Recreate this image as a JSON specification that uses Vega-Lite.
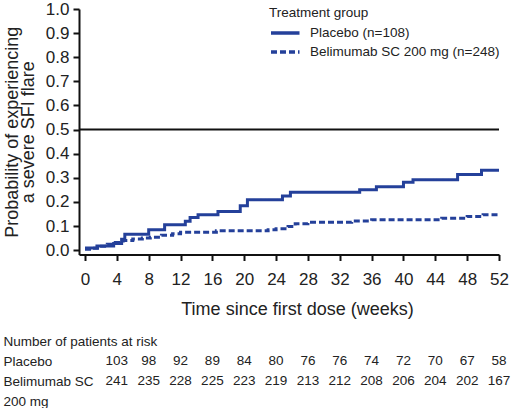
{
  "$schema": "https://vega.github.io/schema/vega-lite/v6.json",
  "padding": {"left": 3, "top": 0, "right": 0, "bottom": 0},
  "spacing": 15,
  "config": {
    "view": {"stroke": null},
    "font": "Liberation Sans",
    "axis": {"grid": false, "domainColor": "#111", "domainWidth": 2, "tickColor": "#111", "tickWidth": 2, "tickSize": 6, "labelColor": "#222", "titleColor": "#222", "labelFont": "Liberation Sans", "titleFont": "Liberation Sans", "titleFontWeight": "normal", "labelOverlap": false, "labelFlush": false},
    "legend": {"titleFontWeight": "normal", "titleFontSize": 13.5, "labelFontSize": 13.5, "titleColor": "#222", "labelColor": "#222", "labelFont": "Liberation Sans", "titleFont": "Liberation Sans", "labelLimit": 300}
  },
  "vconcat": [
    {
      "width": 420,
      "height": 245.5,
      "encoding": {
        "y": {"field": "p", "type": "quantitative",
          "scale": {"domain": [-0.018, 1.0], "nice": false, "zero": false},
          "axis": {"values": [0,0.1,0.2,0.3,0.4,0.5,0.6,0.7,0.8,0.9,1.0], "format": ".1f", "labelFontSize": 17, "labelPadding": 4, "labelOverlap": false, "labelFlush": false, "title": ["Probability of experiencing", "a severe SFI flare"], "titleFontSize": 18, "titleLineHeight": 16, "titlePadding": 8}}
      },
      "layer": [
        {
          "data": {"values": [
            {"group": "Placebo (n=108)", "week": 0, "p": 0.009},
            {"group": "Placebo (n=108)", "week": 1.5, "p": 0.017},
            {"group": "Placebo (n=108)", "week": 3.6, "p": 0.028},
            {"group": "Placebo (n=108)", "week": 4.6, "p": 0.045},
            {"group": "Placebo (n=108)", "week": 5.0, "p": 0.066},
            {"group": "Placebo (n=108)", "week": 8.0, "p": 0.085},
            {"group": "Placebo (n=108)", "week": 10.0, "p": 0.105},
            {"group": "Placebo (n=108)", "week": 12.6, "p": 0.12},
            {"group": "Placebo (n=108)", "week": 13.2, "p": 0.135},
            {"group": "Placebo (n=108)", "week": 14.2, "p": 0.147},
            {"group": "Placebo (n=108)", "week": 16.7, "p": 0.16},
            {"group": "Placebo (n=108)", "week": 19.5, "p": 0.184},
            {"group": "Placebo (n=108)", "week": 20.4, "p": 0.209},
            {"group": "Placebo (n=108)", "week": 24.8, "p": 0.225},
            {"group": "Placebo (n=108)", "week": 25.8, "p": 0.24},
            {"group": "Placebo (n=108)", "week": 34.5, "p": 0.25},
            {"group": "Placebo (n=108)", "week": 36.6, "p": 0.263},
            {"group": "Placebo (n=108)", "week": 40.0, "p": 0.282},
            {"group": "Placebo (n=108)", "week": 41.2, "p": 0.292},
            {"group": "Placebo (n=108)", "week": 46.8, "p": 0.314},
            {"group": "Placebo (n=108)", "week": 49.8, "p": 0.331},
            {"group": "Placebo (n=108)", "week": 52, "p": 0.331},
            {"group": "Belimumab SC 200 mg (n=248)", "week": 0, "p": 0.004},
            {"group": "Belimumab SC 200 mg (n=248)", "week": 0.8, "p": 0.008},
            {"group": "Belimumab SC 200 mg (n=248)", "week": 1.8, "p": 0.016},
            {"group": "Belimumab SC 200 mg (n=248)", "week": 2.8, "p": 0.024},
            {"group": "Belimumab SC 200 mg (n=248)", "week": 3.8, "p": 0.032},
            {"group": "Belimumab SC 200 mg (n=248)", "week": 4.8, "p": 0.04},
            {"group": "Belimumab SC 200 mg (n=248)", "week": 6.0, "p": 0.046},
            {"group": "Belimumab SC 200 mg (n=248)", "week": 7.2, "p": 0.05},
            {"group": "Belimumab SC 200 mg (n=248)", "week": 8.2, "p": 0.054},
            {"group": "Belimumab SC 200 mg (n=248)", "week": 9.6, "p": 0.062},
            {"group": "Belimumab SC 200 mg (n=248)", "week": 11.0, "p": 0.068},
            {"group": "Belimumab SC 200 mg (n=248)", "week": 12.0, "p": 0.074},
            {"group": "Belimumab SC 200 mg (n=248)", "week": 16.5, "p": 0.08},
            {"group": "Belimumab SC 200 mg (n=248)", "week": 23.0, "p": 0.085},
            {"group": "Belimumab SC 200 mg (n=248)", "week": 24.0, "p": 0.089},
            {"group": "Belimumab SC 200 mg (n=248)", "week": 25.5, "p": 0.098},
            {"group": "Belimumab SC 200 mg (n=248)", "week": 26.4, "p": 0.11},
            {"group": "Belimumab SC 200 mg (n=248)", "week": 28.0, "p": 0.116},
            {"group": "Belimumab SC 200 mg (n=248)", "week": 33.5, "p": 0.121},
            {"group": "Belimumab SC 200 mg (n=248)", "week": 36.0, "p": 0.126},
            {"group": "Belimumab SC 200 mg (n=248)", "week": 44.8, "p": 0.132},
            {"group": "Belimumab SC 200 mg (n=248)", "week": 48.0, "p": 0.14},
            {"group": "Belimumab SC 200 mg (n=248)", "week": 50.0, "p": 0.147},
            {"group": "Belimumab SC 200 mg (n=248)", "week": 52, "p": 0.147}
          ]},
          "mark": {"type": "line", "interpolate": "step-after", "strokeWidth": 3},
          "encoding": {
            "x": {"field": "week", "type": "quantitative",
              "scale": {"domain": [-0.754, 52], "nice": false, "zero": false},
              "axis": {"values": [0,4,8,12,16,20,24,28,32,36,40,44,48,52], "labelFontSize": 17, "labelPadding": 11, "labelOverlap": false, "labelFlush": false, "title": "Time since first dose (weeks)", "titleFontSize": 18, "titlePadding": 13, "titleX": 218}},
            "color": {"field": "group", "type": "nominal",
              "scale": {"domain": ["Placebo (n=108)", "Belimumab SC 200 mg (n=248)"], "range": ["#24409a", "#24409a"]},
              "legend": {"title": "Treatment group", "orient": "none", "legendX": 190, "legendY": -3, "symbolType": "M-1,0H2", "symbolSize": 361, "symbolStrokeWidth": 3.5, "labelOffset": 18, "rowPadding": 0, "titlePadding": 2}},
            "strokeDash": {"field": "group", "type": "nominal",
              "scale": {"domain": ["Placebo (n=108)", "Belimumab SC 200 mg (n=248)"], "range": [[1, 0], [6, 3]]},
              "legend": {"title": "Treatment group", "orient": "none", "legendX": 190, "legendY": -3, "symbolType": "M-1,0H2", "symbolSize": 361, "symbolStrokeWidth": 3.5, "labelOffset": 18, "rowPadding": 0, "titlePadding": 2}}
          }
        },
        {
          "data": {"values": [{"p": 0.5}]},
          "mark": {"type": "rule", "color": "#111", "strokeWidth": 2}
        }
      ]
    },
    {
      "width": 420,
      "height": 60,
      "data": {"values": [
        {"row": "Placebo", "week": 4, "n": 103},
        {"row": "Placebo", "week": 8, "n": 98},
        {"row": "Placebo", "week": 12, "n": 92},
        {"row": "Placebo", "week": 16, "n": 89},
        {"row": "Placebo", "week": 20, "n": 84},
        {"row": "Placebo", "week": 24, "n": 80},
        {"row": "Placebo", "week": 28, "n": 76},
        {"row": "Placebo", "week": 32, "n": 76},
        {"row": "Placebo", "week": 36, "n": 74},
        {"row": "Placebo", "week": 40, "n": 72},
        {"row": "Placebo", "week": 44, "n": 70},
        {"row": "Placebo", "week": 48, "n": 67},
        {"row": "Placebo", "week": 52, "n": 58},
        {"row": "Belimumab SC", "week": 4, "n": 241},
        {"row": "Belimumab SC", "week": 8, "n": 235},
        {"row": "Belimumab SC", "week": 12, "n": 228},
        {"row": "Belimumab SC", "week": 16, "n": 225},
        {"row": "Belimumab SC", "week": 20, "n": 223},
        {"row": "Belimumab SC", "week": 24, "n": 219},
        {"row": "Belimumab SC", "week": 28, "n": 213},
        {"row": "Belimumab SC", "week": 32, "n": 212},
        {"row": "Belimumab SC", "week": 36, "n": 208},
        {"row": "Belimumab SC", "week": 40, "n": 206},
        {"row": "Belimumab SC", "week": 44, "n": 204},
        {"row": "Belimumab SC", "week": 48, "n": 202},
        {"row": "Belimumab SC", "week": 52, "n": 167}
      ]},
      "mark": {"type": "text", "fontSize": 13.5, "color": "#222", "font": "Liberation Sans"},
      "encoding": {
        "x": {"field": "week", "type": "quantitative", "scale": {"domain": [-0.754, 52], "nice": false, "zero": false}, "axis": null},
        "y": {"field": "row", "type": "ordinal",
          "scale": {"type": "point", "domain": ["Number of patients at risk", "Placebo", "Belimumab SC", "200 mg"], "padding": 0},
          "axis": {"title": null, "domain": false, "ticks": false, "tickSize": 0, "labelAlign": "left", "labelPadding": 76, "labelFontSize": 13.5, "labelLimit": 300}},
        "text": {"field": "n", "type": "quantitative"}
      }
    }
  ]
}
